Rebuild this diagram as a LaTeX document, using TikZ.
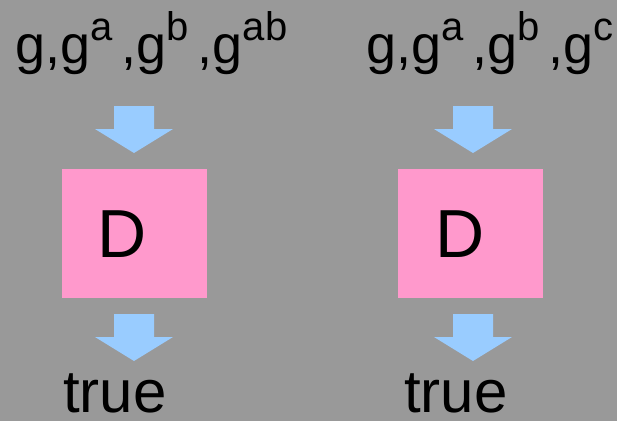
\documentclass[tikz,border=0pt]{standalone}
\usepackage{fontspec}
\setmainfont{Liberation Sans}
\definecolor{slate}{HTML}{999999}
\definecolor{rosebox}{HTML}{FF99CC}
\definecolor{skyarrow}{HTML}{99CCFF}
\newcommand\powr[1]{\raisebox{23pt}{\fontsize{40}{40}\selectfont #1}}
\tikzset{
  label text/.style={inner sep=0pt, text=black, font=\fontsize{54}{54}\selectfont},
  oracle/.style={fill=rosebox, draw=none, minimum width=145pt, minimum height=129pt, inner sep=0pt},
  blockarrow/.style={fill=skyarrow, draw=none},
}
\begin{document}
\begin{tikzpicture}[x=1pt,y=-1pt]
  \fill[slate] (0,0) rectangle (617,421);
  \useasboundingbox (0,0) rectangle (617,421);

  % inputs
  \node[label text, anchor=base west] (inL) at (15,63) {g,g\powr{a}\,,g\powr{b}\,,g\powr{ab}};
  \node[label text, anchor=base west] (inR) at (366,63) {g,g\powr{a}\,,g\powr{b}\,,g\powr{c}};

  % distinguishers
  \node[oracle, anchor=north west] (boxL) at (62,169) {};
  \node[oracle, anchor=north west] (boxR) at (398,169) {};
  \node[inner sep=0pt, anchor=base west, font=\fontsize{68}{68}\selectfont] (dL) at (97,257) {D};
  \node[inner sep=0pt, anchor=base west, font=\fontsize{68}{68}\selectfont] (dR) at (435,257) {D};

  % outputs
  \node[label text, anchor=base, text depth=0pt, font=\fontsize{60}{60}\selectfont] (outL) at (115,412) {true};
  \node[label text, anchor=base, text depth=0pt, font=\fontsize{60}{60}\selectfont] (outR) at (456,412) {true};

  % block arrows: input -> box, box -> output
  \foreach \cx/\top in {134/106, 134/314, 473/106, 473/314} {
    \fill[blockarrow] (\cx-20,\top) -- (\cx+20,\top) -- (\cx+20,\top+23) -- (\cx+39,\top+23)
      -- (\cx,\top+47) -- (\cx-39,\top+23) -- (\cx-20,\top+23) -- cycle;
  }
\end{tikzpicture}
\end{document}
